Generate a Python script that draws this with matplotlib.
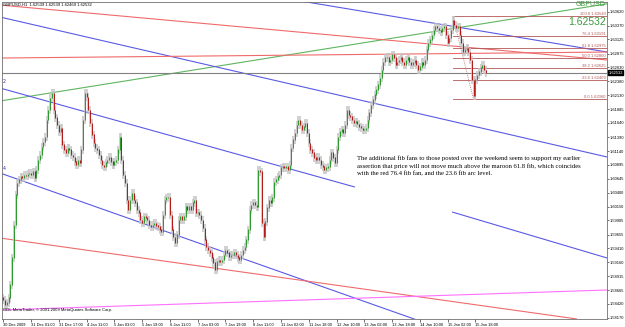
import matplotlib.pyplot as plt
import numpy as np

# GBPUSD H1 closes, 30 Dec 2009 - 15 Jan 2010
closes = [
    1.5849, 1.5840, 1.5844, 1.5853, 1.5876, 1.5924, 1.5982, 1.6036, 1.6057, 1.6063,
    1.6068, 1.6066, 1.6071, 1.6070, 1.6073, 1.6075, 1.6071, 1.6077, 1.6066, 1.6080,
    1.6098, 1.6107, 1.6121, 1.6130, 1.6139, 1.6169, 1.6187, 1.6208, 1.6217, 1.6187,
    1.6173, 1.6160, 1.6148, 1.6155, 1.6125, 1.6116, 1.6111, 1.6119, 1.6116, 1.6107,
    1.6103, 1.6095, 1.6089, 1.6098, 1.6093, 1.6116, 1.6169, 1.6217, 1.6210, 1.6187,
    1.6164, 1.6143, 1.6128, 1.6119, 1.6116, 1.6107, 1.6098, 1.6089, 1.6086, 1.6093,
    1.6098, 1.6103, 1.6095, 1.6089, 1.6095, 1.6098, 1.6116, 1.6139, 1.6098, 1.6071,
    1.6057, 1.6027, 1.6009, 1.6027, 1.6039, 1.6027, 1.6022, 1.6009, 1.6004, 1.5991,
    1.5986, 1.5997, 1.5995, 1.5991, 1.5982, 1.5979, 1.5982, 1.5986, 1.5981, 1.5979,
    1.5974, 1.5970, 1.6000, 1.6027, 1.6031, 1.6032, 1.6000, 1.5974, 1.5961, 1.5950,
    1.5965, 1.5991, 1.5997, 1.5991, 1.5997, 1.6015, 1.6009, 1.6015, 1.6009, 1.6022,
    1.6027, 1.6004, 1.6004, 1.6000, 1.5991, 1.5977, 1.5956, 1.5943, 1.5938, 1.5933,
    1.5924, 1.5915, 1.5902, 1.5917, 1.5920, 1.5917, 1.5920, 1.5929, 1.5938, 1.5933,
    1.5926, 1.5929, 1.5929, 1.5933, 1.5929, 1.5924, 1.5920, 1.5929, 1.5938, 1.5943,
    1.5956, 1.5974, 1.6009, 1.6018, 1.6022, 1.6018, 1.6015, 1.6080, 1.6077, 1.5986,
    1.5961, 1.5988, 1.6013, 1.6027, 1.6022, 1.6031, 1.6059, 1.6063, 1.6068, 1.6071,
    1.6084, 1.6086, 1.6084, 1.6086, 1.6080, 1.6089, 1.6119, 1.6134, 1.6146, 1.6160,
    1.6169, 1.6160, 1.6152, 1.6157, 1.6164, 1.6146, 1.6128, 1.6116, 1.6111, 1.6102,
    1.6098, 1.6103, 1.6098, 1.6089, 1.6086, 1.6080, 1.6084, 1.6086, 1.6098, 1.6111,
    1.6102, 1.6093, 1.6116, 1.6139, 1.6148, 1.6152, 1.6146, 1.6160, 1.6187, 1.6178,
    1.6175, 1.6169, 1.6164, 1.6166, 1.6162, 1.6157, 1.6155, 1.6152, 1.6152, 1.6155,
    1.6169, 1.6182, 1.6196, 1.6205, 1.6214, 1.6223, 1.6232, 1.6244, 1.6258, 1.6272,
    1.6280, 1.6281, 1.6272, 1.6276, 1.6285, 1.6280, 1.6267, 1.6272, 1.6276, 1.6281,
    1.6272, 1.6267, 1.6276, 1.6280, 1.6272, 1.6267, 1.6271, 1.6276, 1.6267, 1.6258,
    1.6264, 1.6272, 1.6267, 1.6276, 1.6294, 1.6306, 1.6312, 1.6320, 1.6329, 1.6335,
    1.6333, 1.6329, 1.6326, 1.6333, 1.6335, 1.6320, 1.6306, 1.6315, 1.6329, 1.6347,
    1.6338, 1.6333, 1.6335, 1.6320, 1.6306, 1.6290, 1.6294, 1.6297, 1.6290, 1.6276,
    1.6240, 1.6212, 1.6241, 1.6249, 1.6255, 1.6262, 1.6267, 1.6258, 1.62532,
]
first_open = 1.5853

date_labels = ["30 Dec 2009", "31 Dec 01:00", "31 Dec 17:00", "4 Jan 11:00", "5 Jan 03:00",
               "5 Jan 19:00", "6 Jan 11:00", "7 Jan 03:00", "7 Jan 19:00", "8 Jan 11:00",
               "11 Jan 02:00", "11 Jan 18:00", "12 Jan 10:00", "13 Jan 02:00", "13 Jan 18:00",
               "14 Jan 10:00", "15 Jan 02:00", "15 Jan 18:00"]

price_ticks = [1.63620, 1.63370, 1.63125, 1.62875, 1.62630, 1.62380, 1.62130, 1.61885,
               1.61640, 1.61390, 1.61140, 1.60895, 1.60645, 1.60400, 1.60150, 1.59905,
               1.59655, 1.59410, 1.59160, 1.58915, 1.58665, 1.58420, 1.58170]

last_price = 1.62532
header = "GBPUSD,H1  1.62539 1.62539 1.62469 1.62532"

# fibo retracement
fib_high, fib_low = 1.6354, 1.6206
fib_start, fib_end = 259, 271
fib_levels = [0.0, 23.6, 38.2, 50.0, 61.8, 76.4, 100.0]

# trend lines / fans: (bar1, price1, bar2, price2, colour)
trendlines = [
    (-2, 1.6203, 348, 1.6376, "#5fb55f"),     # green
    (-2, 1.63525, 348, 1.61034, "#5a5ae6"),   # blue
    (168, 1.63827, 348, 1.62902, "#5a5ae6"),
    (-2, 1.62262, 202.6, 1.60500, "#5a5ae6"),
    (-2, 1.60750, 238.4, 1.58134, "#5a5ae6"),
    (258.6, 1.60056, 348, 1.59237, "#5a5ae6"),
    (-2, 1.63738, 348, 1.62760, "#f06a6a"),   # red
    (-2, 1.62795, 348, 1.62902, "#f06a6a"),
    (-2, 1.59593, 330.6, 1.58152, "#f06a6a"),
    (-2, 1.58312, 348, 1.58668, "#ff70ff"),   # magenta
]

note = ("The additional fib fans to those posted over the weekend seem to support my earlier\n"
        "assertion that price will not move much above the maroon 61.8 fib, which coincides\n"
        "with the red 76.4 fib fan, and the 23.6 fib arc level.")

W, H = 625, 327
fig = plt.figure(figsize=(W / 100, H / 100), dpi=100)
fig.patch.set_facecolor("white")
ax = fig.add_axes([2 / W, (H - 319) / H, 605 / W, 317 / H])

# lines first, candles on top
for b1, p1, b2, p2, c in trendlines:
    ax.plot([b1, b2], [p1, p2], color=c, lw=0.8, solid_capstyle="butt")

ax.axhline(last_price, color="#808080", lw=0.8)

for lvl in fib_levels:
    p = fib_low + (fib_high - fib_low) * lvl / 100
    ax.plot([fib_start, 348], [p, p], color="#b25656", lw=0.6)
    ax.text(347, p, f"{lvl:.1f} {p:.5f}", fontsize=3.0, color="#b25656",
            ha="right", va="bottom", family="Liberation Sans")
ax.plot([fib_start, fib_end], [fib_high, fib_low], color="#b25656", lw=0.6, ls=(0, (1, 1.5)))

closes = np.array(closes)
opens = np.concatenate([[first_open], closes[:-1]])
x = np.arange(len(closes))
wick = 0.0007
hi = np.maximum(opens, closes) + wick
lo = np.minimum(opens, closes) - wick
ax.vlines(x, lo, hi, color="#c4c4c4", lw=1.1)
up = closes >= opens
bot = np.minimum(opens, closes)
top = np.maximum(opens, closes) + 0.00008
ax.vlines(x[up], bot[up], top[up], color="#2f9a2f", lw=0.75)
ax.vlines(x[~up], bot[~up], top[~up], color="#b21c1c", lw=0.75)

ax.set_xlim(-0.8, 347.9)
ax.set_ylim(1.58152, 1.63792)

ax.yaxis.tick_right()
ax.set_yticks(price_ticks)
ax.set_yticklabels([f"{v:.5f}" for v in price_ticks], fontsize=2.9, family="Liberation Sans")
ax.tick_params(axis="y", length=1.5, width=0.4, pad=0.8)
ax.set_xticks([16 * k for k in range(len(date_labels))])
ax.set_xticklabels(date_labels, fontsize=2.9, ha="left", family="Liberation Sans")
ax.tick_params(axis="x", length=2, width=0.4, pad=1)
for s in ax.spines.values():
    s.set_color("#707070")
    s.set_linewidth(0.6)

ax.text(1.002, last_price, f"{last_price:.5f}", transform=ax.get_yaxis_transform(),
        fontsize=2.9, color="white", va="center", ha="left", family="Liberation Sans",
        bbox=dict(boxstyle="square,pad=0.15", fc="black", ec="black"))

fig.text(3 / W, 1 - 5 / H, header, fontsize=3.0, va="center", family="Liberation Sans")
fig.text(606 / W, 1 - 5 / H, "GBPUSD", fontsize=5, color="#3a9a3a", ha="right", va="center",
         family="Liberation Sans")
fig.text(606 / W, 1 - 22 / H, f"{last_price:.5f}", fontsize=7.5, color="#3a9a3a", ha="right",
         va="center", family="Liberation Sans")
fig.text(3 / W, 1 - 310 / H, "ODL MetaTrader, \u00a9 2001-2009 MetaQuotes Software Corp.",
         fontsize=3.0, va="center", family="Liberation Sans")
fig.text(3 / W, 1 - 81 / H, "2", fontsize=3.4, color="#3030b0", va="center")
fig.text(3 / W, 1 - 168 / H, "4", fontsize=3.4, color="#3030b0", va="center")
fig.text(357 / W, 1 - 155 / H, note, fontsize=4.8, family="Liberation Serif", va="top",
         linespacing=1.55)

fig.savefig("out.png", dpi=100)
